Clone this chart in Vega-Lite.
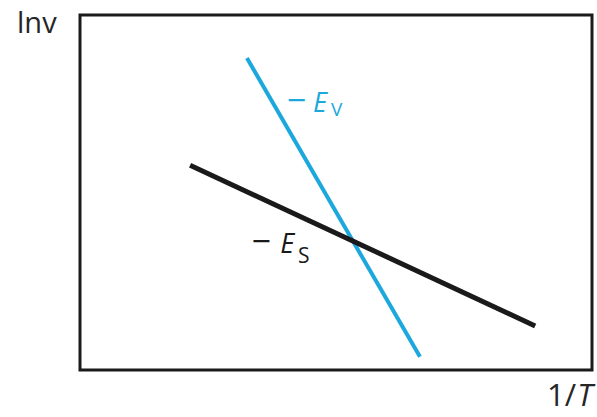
{
  "$schema": "https://vega.github.io/schema/vega-lite/v6.json",
  "width": 512,
  "height": 355,
  "autosize": {"type": "none"},
  "padding": {"left": 80, "top": 15, "right": 5, "bottom": 47},
  "background": "white",
  "config": {
    "view": {"stroke": "#1a1a1a", "strokeWidth": 3},
    "text": {"font": "Open Sans"}
  },
  "datasets": {
    "lines": [
      {"series": "v", "invT": 0.326, "lnv": 0.879},
      {"series": "v", "invT": 0.664, "lnv": 0.037},
      {"series": "s", "invT": 0.215, "lnv": 0.577},
      {"series": "s", "invT": 0.889, "lnv": 0.124}
    ],
    "labels": [
      {"group": "axis", "text": "lnv", "invT": -0.123, "lnv": 0.949},
      {"group": "axisR", "text": "1/", "invT": 0.969, "lnv": -0.101},
      {"group": "axisI", "text": "T", "invT": 0.971, "lnv": -0.101},
      {"group": "vDash", "text": "−", "invT": 0.423, "lnv": 0.727},
      {"group": "vE", "text": "E", "invT": 0.455, "lnv": 0.727},
      {"group": "vSub", "text": "V", "invT": 0.490, "lnv": 0.715},
      {"group": "sDash", "text": "−", "invT": 0.354, "lnv": 0.330},
      {"group": "sE", "text": "E", "invT": 0.391, "lnv": 0.330},
      {"group": "sSub", "text": "S", "invT": 0.426, "lnv": 0.301}
    ]
  },
  "encoding": {
    "x": {"field": "invT", "type": "quantitative", "scale": {"domain": [0, 1], "nice": false, "zero": false}, "axis": null},
    "y": {"field": "lnv", "type": "quantitative", "scale": {"domain": [0, 1], "nice": false, "zero": false}, "axis": null}
  },
  "layer": [
    {
      "data": {"name": "lines"},
      "transform": [{"filter": "datum.series === 'v'"}],
      "mark": {"type": "line", "color": "#1DA8DD", "strokeWidth": 4, "clip": false}
    },
    {
      "data": {"name": "lines"},
      "transform": [{"filter": "datum.series === 's'"}],
      "mark": {"type": "line", "color": "#1a1a1a", "strokeWidth": 5, "clip": false}
    },
    {
      "data": {"name": "labels"},
      "transform": [{"filter": "datum.group === 'axis'"}],
      "mark": {"type": "text", "align": "left", "baseline": "alphabetic", "fontSize": 29, "color": "#262626"},
      "encoding": {"text": {"field": "text"}}
    },
    {
      "data": {"name": "labels"},
      "transform": [{"filter": "datum.group === 'axisR'"}],
      "mark": {"type": "text", "align": "right", "baseline": "alphabetic", "fontSize": 31, "color": "#262626"},
      "encoding": {"text": {"field": "text"}}
    },
    {
      "data": {"name": "labels"},
      "transform": [{"filter": "datum.group === 'axisI'"}],
      "mark": {"type": "text", "align": "left", "baseline": "alphabetic", "fontSize": 31, "fontStyle": "italic", "color": "#262626"},
      "encoding": {"text": {"field": "text"}}
    },
    {
      "data": {"name": "labels"},
      "transform": [{"filter": "datum.group === 'vDash'"}],
      "mark": {"type": "text", "align": "center", "baseline": "alphabetic", "fontSize": 34, "color": "#1DA8DD"},
      "encoding": {"text": {"field": "text"}}
    },
    {
      "data": {"name": "labels"},
      "transform": [{"filter": "datum.group === 'vE'"}],
      "mark": {"type": "text", "align": "left", "baseline": "alphabetic", "fontSize": 27, "fontStyle": "italic", "color": "#1DA8DD"},
      "encoding": {"text": {"field": "text"}}
    },
    {
      "data": {"name": "labels"},
      "transform": [{"filter": "datum.group === 'vSub'"}],
      "mark": {"type": "text", "align": "left", "baseline": "alphabetic", "fontSize": 19, "color": "#1DA8DD"},
      "encoding": {"text": {"field": "text"}}
    },
    {
      "data": {"name": "labels"},
      "transform": [{"filter": "datum.group === 'sDash'"}],
      "mark": {"type": "text", "align": "center", "baseline": "alphabetic", "fontSize": 34, "color": "#1a1a1a"},
      "encoding": {"text": {"field": "text"}}
    },
    {
      "data": {"name": "labels"},
      "transform": [{"filter": "datum.group === 'sE'"}],
      "mark": {"type": "text", "align": "left", "baseline": "alphabetic", "fontSize": 27, "fontStyle": "italic", "color": "#1a1a1a"},
      "encoding": {"text": {"field": "text"}}
    },
    {
      "data": {"name": "labels"},
      "transform": [{"filter": "datum.group === 'sSub'"}],
      "mark": {"type": "text", "align": "left", "baseline": "alphabetic", "fontSize": 21, "color": "#1a1a1a"},
      "encoding": {"text": {"field": "text"}}
    }
  ]
}
